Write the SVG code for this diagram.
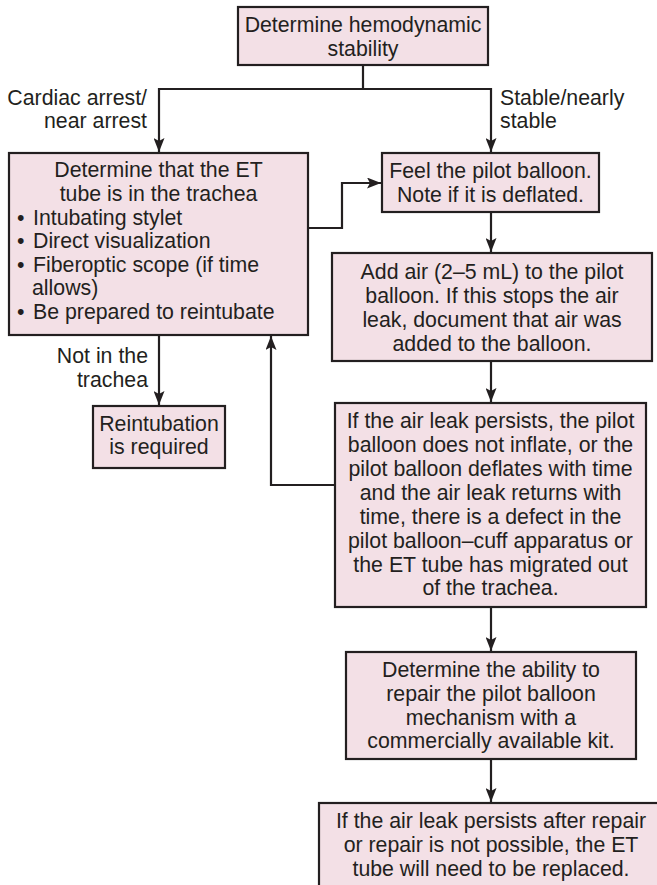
<svg xmlns="http://www.w3.org/2000/svg" width="657" height="885" viewBox="0 0 657 885">
<defs>
<style>
.box{fill:#F3E0E6;stroke:#231F20;stroke-width:2.2}
.t{font-family:"Liberation Sans",Arial,sans-serif;font-size:21.3px;fill:#231F20}
.c{text-anchor:middle}
.e{text-anchor:end}
.ln{fill:none;stroke:#231F20;stroke-width:2.2}
</style>
<marker id="ah" viewBox="0 0 14 11" refX="14" refY="5.5" markerWidth="14" markerHeight="11" markerUnits="userSpaceOnUse" orient="auto">
<path d="M0,0 L14,5.5 L0,11 L3,5.5 z" fill="#231F20"/>
</marker>
</defs>
<rect width="657" height="885" fill="#FFFFFF"/>

<g id="connectors">
<path class="ln" d="M363,65 V89 M159,89 H491"/>
<path class="ln" d="M159,88 V152" marker-end="url(#ah)"/>
<path class="ln" d="M491,88 V152" marker-end="url(#ah)"/>
<path class="ln" d="M308,228 H342 V183 H381" marker-end="url(#ah)"/>
<path class="ln" d="M491,212 V252" marker-end="url(#ah)"/>
<path class="ln" d="M491,361 V402" marker-end="url(#ah)"/>
<path class="ln" d="M159,335 V405" marker-end="url(#ah)"/>
<path class="ln" d="M335,485 H271 V336" marker-end="url(#ah)"/>
<path class="ln" d="M491,607 V651" marker-end="url(#ah)"/>
<path class="ln" d="M491,759 V802" marker-end="url(#ah)"/>
</g>

<g id="labels">
<text class="t e" x="147" y="105">Cardiac arrest/</text>
<text class="t e" x="147" y="128">near arrest</text>
<text class="t" x="500" y="105">Stable/nearly</text>
<text class="t" x="500" y="128">stable</text>
<text class="t e" x="148" y="363">Not in the</text>
<text class="t e" x="148" y="387">trachea</text>
</g>

<g id="n-stability">
<rect class="box" x="238" y="7" width="250" height="58"/>
<text class="t c" x="363" y="32">Determine hemodynamic</text>
<text class="t c" x="363" y="56">stability</text>
</g>

<g id="n-trachea">
<rect class="box" x="9" y="153" width="299" height="182"/>
<text class="t c" x="158.5" y="177">Determine that the ET</text>
<text class="t c" x="158.5" y="201">tube is in the trachea</text>
<text class="t" x="17" y="224.5">•</text><text class="t" x="33" y="224.5">Intubating stylet</text>
<text class="t" x="17" y="248">•</text><text class="t" x="33" y="248">Direct visualization</text>
<text class="t" x="17" y="271.5">•</text><text class="t" x="33" y="271.5">Fiberoptic scope (if time</text>
<text class="t" x="32" y="295">allows)</text>
<text class="t" x="17" y="318.5">•</text><text class="t" x="33" y="318.5">Be prepared to reintubate</text>
</g>

<g id="n-reintubation">
<rect class="box" x="93" y="406" width="132" height="62"/>
<text class="t c" x="159" y="431">Reintubation</text>
<text class="t c" x="159" y="454">is required</text>
</g>

<g id="n-feel">
<rect class="box" x="382" y="153" width="217" height="59"/>
<text class="t c" x="490.5" y="178">Feel the pilot balloon.</text>
<text class="t c" x="490.5" y="202">Note if it is deflated.</text>
</g>

<g id="n-addair">
<rect class="box" x="332" y="253" width="320" height="108"/>
<text class="t c" x="492" y="279">Add air (2–5 mL) to the pilot</text>
<text class="t c" x="492" y="303">balloon. If this stops the air</text>
<text class="t c" x="492" y="327">leak, document that air was</text>
<text class="t c" x="492" y="351">added to the balloon.</text>
</g>

<g id="n-leak">
<rect class="box" x="335" y="403" width="311" height="204"/>
<text class="t c" x="490.5" y="428">If the air leak persists, the pilot</text>
<text class="t c" x="490.5" y="452">balloon does not inflate, or the</text>
<text class="t c" x="490.5" y="476">pilot balloon deflates with time</text>
<text class="t c" x="490.5" y="500">and the air leak returns with</text>
<text class="t c" x="490.5" y="523.5">time, there is a defect in the</text>
<text class="t c" x="490.5" y="547.5">pilot balloon–cuff apparatus or</text>
<text class="t c" x="490.5" y="571.5">the ET tube has migrated out</text>
<text class="t c" x="490.5" y="595">of the trachea.</text>
</g>

<g id="n-repair">
<rect class="box" x="346" y="652" width="290" height="107"/>
<text class="t c" x="491" y="677">Determine the ability to</text>
<text class="t c" x="491" y="701">repair the pilot balloon</text>
<text class="t c" x="491" y="725">mechanism with a</text>
<text class="t c" x="491" y="748">commercially available kit.</text>
</g>

<g id="n-replace">
<rect class="box" x="319" y="803" width="345" height="100"/>
<text class="t c" x="491" y="828">If the air leak persists after repair</text>
<text class="t c" x="491" y="852">or repair is not possible, the ET</text>
<text class="t c" x="491" y="876">tube will need to be replaced.</text>
</g>
</svg>
